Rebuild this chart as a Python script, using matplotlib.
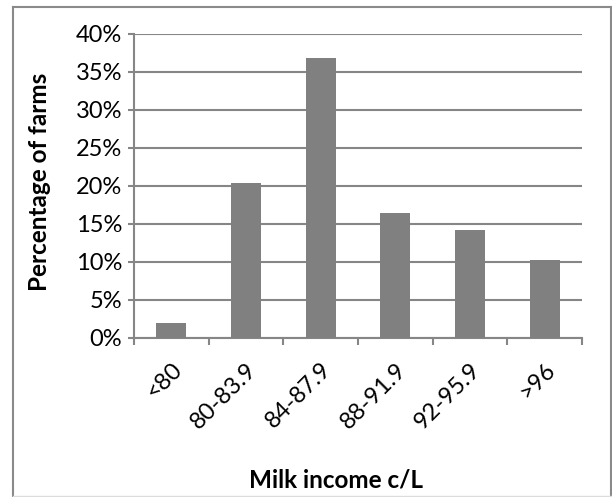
import matplotlib.pyplot as plt
from matplotlib.lines import Line2D
from matplotlib.ticker import PercentFormatter

# income bands and share of farms in each (%)
bands = ['<80', '80-83.9', '84-87.9', '88-91.9', '92-95.9', '>96']
share = [2.0, 20.4, 36.8, 16.4, 14.2, 10.2]

GREY = '#868686'
BAR = '#808080'

plt.rcParams['font.family'] = ['Lato', 'DejaVu Sans']

fig = plt.figure(figsize=(6.12, 4.97), dpi=100)
W, H = 612, 497
ax = fig.add_axes([134 / W, 1 - 338 / H, (582 - 134) / W, (338 - 34) / H])

x = range(len(bands))
ax.bar(x, share, width=0.4, color=BAR, zorder=3)

ax.set_xlim(-0.5, len(bands) - 0.5)
ax.set_ylim(0, 40)
ax.set_yticks(range(0, 41, 5))
ax.yaxis.set_major_formatter(PercentFormatter(decimals=0))
ax.yaxis.grid(True, color=GREY, lw=1.5, zorder=0)
ax.set_axisbelow(True)

# ticks sit on the boundaries between categories
ax.set_xticks([i - 0.5 for i in range(len(bands) + 1)])
ax.set_xticklabels([])
ax.set_xticks(list(x), minor=True)
ax.set_xticklabels(bands, minor=True, rotation=45, ha='right',
                   rotation_mode='anchor', fontsize=17)
ax.tick_params(axis='x', which='minor', length=0, pad=15)
ax.tick_params(axis='x', which='major', length=5, width=1.5, color=GREY)
ax.tick_params(axis='y', length=4.5, width=1.5, color=GREY, labelsize=17, pad=4)

for side in ('top', 'right'):
    ax.spines[side].set_visible(False)
for side in ('left', 'bottom'):
    ax.spines[side].set_color(GREY)
    ax.spines[side].set_linewidth(1.5)

fig.text(336 / W, 1 - 480 / H, 'Milk income c/L', ha='center', va='center',
         fontsize=17.5, fontweight='bold')
fig.text(40 / W, 1 - 182 / H, 'Percentage of farms', ha='center', va='center',
         rotation=90, fontsize=17.5, fontweight='bold')

# chart area border
fig.add_artist(Line2D([13 / W, 13 / W], [0, 1 - 7 / H], color='#8a8a8a', lw=1.5))
fig.add_artist(Line2D([13 / W, 611 / W], [1 - 7 / H, 1 - 7 / H], color='#8a8a8a', lw=1.5))
fig.add_artist(Line2D([611 / W, 611 / W], [0, 1 - 7 / H], color='#8a8a8a', lw=1.5))
fig.add_artist(Line2D([13 / W, 611 / W], [1 - 496 / H, 1 - 496 / H], color='#dcdcdc', lw=1))

fig.savefig('out.png', dpi=100)
